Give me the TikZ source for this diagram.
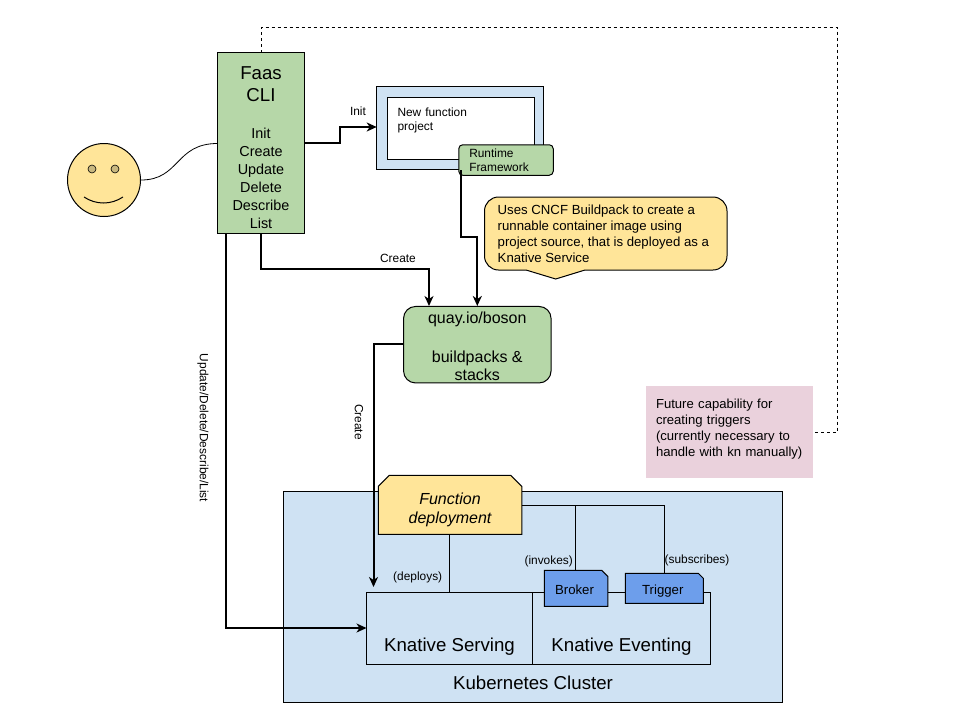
\documentclass[tikz,border=0pt]{standalone}
\usepackage{fontspec}
\setmainfont{Liberation Sans}
\usetikzlibrary{shapes.misc,arrows.meta}
\definecolor{paleblue}{HTML}{CFE2F3}
\definecolor{palegreen}{HTML}{B6D7A8}
\definecolor{paleyellow}{HTML}{FFE599}
\definecolor{midblue}{HTML}{6D9EEB}
\definecolor{palepink}{HTML}{EAD1DC}
\definecolor{eyecolour}{HTML}{C9B87F}
\newcommand{\fsize}[2]{\fontsize{#1}{#2}\selectfont}
\tikzset{
    box/.style={draw=black,line width=1pt,inner sep=0pt,align=center},
    flow/.style={draw=black,line width=2pt,-{Stealth[length=10pt,width=9pt,inset=3pt]}},
    thin link/.style={draw=black,line width=1pt},
    tag/.style={inner sep=0pt,font=\fsize{11.9}{14}},
    snipped/.style 2 args={box,chamfered rectangle,chamfered rectangle corners={#1},chamfered rectangle xsep=#2,chamfered rectangle ysep=#2},
}
\begin{document}
\begin{tikzpicture}[x=1pt,y=-1pt]
    \useasboundingbox (0,0) rectangle (960,720);
    % user
    \node[box,circle,fill=paleyellow,minimum size=73pt] (user) at (104,180) {};
    \foreach \x/\n in {92/lefteye,115/righteye}
        \node[circle,draw=black,line width=0.6pt,fill=eyecolour,minimum size=8pt,inner sep=0pt] (\n) at (\x,169) {};
    \coordinate (smileleft) at (84,197);
    \coordinate (smileright) at (123,197);
    \draw[line width=1pt] (smileleft) .. controls (96,205) and (111,205) .. (smileright);
    % cli and project
    \node[box,fill=palegreen,minimum width=87pt,minimum height=181pt,font=\fsize{14.4}{18}] (faas) at (261,143)
        {\rule{0pt}{22pt}\fsize{18.67}{22}Faas\\[4pt]\fsize{18.67}{22}CLI\\[19pt]Init\\Create\\Update\\Delete\\Describe\\List};
    \coordinate (faasgrab) at (217.5,143.5);
    \draw[line width=0.8pt] (user.east) .. controls (180,180) and (175,143.5) .. (faasgrab);
    \node[box,fill=paleblue,minimum width=167pt,minimum height=82.5pt] (project) at (460.3,128) {};
    \node[box,fill=white,minimum width=147pt,minimum height=62.5pt,align=left,anchor=north west,text width=147pt,font=\fsize{11.9}{14}] (newproject) at (387,96.7)
        {\hspace*{10pt}New function\\\hspace*{10pt}project\\[4pt]\mbox{}};
    \node[box,rounded corners=4pt,fill=palegreen,minimum width=94.5pt,minimum height=30.5pt,align=left,text width=94.5pt,font=\fsize{11.9}{14}] (runtime) at (506,160)
        {\hspace*{10.5pt}Runtime\\\hspace*{10.5pt}Framework};
    \node[box,rounded corners=12pt,fill=palegreen,minimum width=147.5pt,minimum height=76.5pt,font=\fsize{16}{18}] (quay) at (477.3,344.7)
        {\rule{0pt}{15pt}quay.io/boson\\[21pt]buildpacks \&\\stacks};
    % note on the buildpack
    \draw[line width=1pt,fill=paleyellow] (526,270) -- (555.7,279) -- (585,270) -- (713,270)
        arc (90:0:14) -- (727,211) arc (0:-90:14) -- (498.5,197) arc (-90:-180:14)
        -- (484.5,256) arc (180:90:14) -- cycle;
    \node[align=left,inner sep=0pt,anchor=west,font=\fsize{13.2}{16}] (buildpacknote) at (497.5,234)
        {Uses CNCF Buildpack to create a\\runnable container image using\\project source, that is deployed as a\\Knative Service};
    % cluster
    \node[box,fill=paleblue,minimum width=498.5pt,minimum height=210.5pt] (cluster) at (532.75,596.75) {};
    \node[inner sep=0pt,font=\fsize{18.67}{20}] (clusterlabel) at (533,683) {Kubernetes Cluster};
    \node[box,fill=paleblue,minimum width=166pt,minimum height=71.5pt] (serving) at (449.5,628.25) {};
    \node[box,fill=paleblue,minimum width=178pt,minimum height=71.5pt] (eventing) at (621.5,628.25) {};
    \node[inner sep=0pt,font=\fsize{18.67}{20}] (servinglabel) at (449.5,647) {Knative Serving};
    \node[inner sep=0pt,font=\fsize{18.67}{20}] (eventinglabel) at (621.5,647) {Knative Eventing};
    \node[snipped={north west,north east}{5.5pt},fill=paleyellow,minimum width=143.5pt,minimum height=59pt,font=\itshape\fsize{16}{19}] (deployment) at (450,504.8)
        {\rule{0pt}{22pt}Function\\deployment};
    \node[snipped={north east}{3pt},fill=midblue,minimum width=63.5pt,minimum height=36pt,font=\fsize{13.2}{14}] (broker) at (576,588.3) {\rule{0pt}{13.5pt}Broker\hspace*{3pt}};
    \node[snipped={north east}{2.5pt},fill=midblue,minimum width=78pt,minimum height=30pt,font=\fsize{13.2}{14}] (trigger) at (664.3,588.3) {\rule{0pt}{15.5pt}Trigger\hspace*{3pt}};
    % links inside the cluster
    \coordinate (deployelbow) at (449.5,592.5);
    \coordinate (rightstart) at (521.7,505.5);
    \coordinate (brokerjoin) at (575.3,505.5);
    \coordinate (triggerjoin) at (664.5,505.5);
    \coordinate (brokertop) at (575.3,570.3);
    \coordinate (triggertop) at (664.5,573.3);
    \draw[thin link] (deployment.south -| deployelbow) -- (deployelbow);
    \draw[thin link] (rightstart) -- (triggerjoin) -- (triggertop);
    \draw[thin link] (brokerjoin) -- (brokertop);
    \node[tag] (deploys) at (417.7,577.7) {(deploys)};
    \node[tag] (invokes) at (548.7,561) {(invokes)};
    \node[tag] (subscribes) at (697,560) {(subscribes)};
    % main arrows
    \coordinate (initstart) at (304.5,143);
    \coordinate (initmid) at (340,143);
    \coordinate (initend) at (376.7,127);
    \draw[flow] (initstart) -- (initmid) -- (initmid |- initend) -- (initend);
    \node[tag,above=0pt] (initlabel) at (358,116) {Init};
    \coordinate (runtimeout) at (460.5,170);
    \coordinate (quayin) at (477.3,306);
    \draw[flow] (runtimeout) -- (460.5,237) -- (477.3,237) -- (quayin);
    \coordinate (faascreate) at (261,233.5);
    \coordinate (quaycreate) at (429,306);
    \draw[flow] (faascreate) -- (261,268.5) -- (429,268.5) -- (quaycreate);
    \node[tag] (createlabel) at (398,258) {Create};
    \coordinate (quayout) at (403.5,344);
    \coordinate (servingin) at (373.5,587);
    \draw[flow] (quayout) -- (373.5,344) -- (servingin);
    \node[tag,rotate=-90] (createdown) at (359,422) {Create};
    \coordinate (faasother) at (225.5,233.5);
    \coordinate (servingleft) at (366.5,628);
    \draw[flow] (faasother) -- (225.5,628) -- (servingleft);
    \node[tag,rotate=-90] (otherlabel) at (203,428) {Update/Delete/Describe/List};
    % future capability
    \node[fill=palepink,minimum width=167pt,minimum height=92pt,inner sep=0pt,text width=147pt,align=left,font=\fsize{13.1}{16}] (future) at (729.5,432)
        {Future capability for\\creating triggers\\(currently necessary to\\handle with kn manually)\\[-8pt]\mbox{}};
    \coordinate (cliout) at (261,52.5);
    \draw[dashed,line width=0.8pt] (cliout) -- (261,27) -- (837,27) -- (837,432) -- (future.east);
\end{tikzpicture}
\end{document}
